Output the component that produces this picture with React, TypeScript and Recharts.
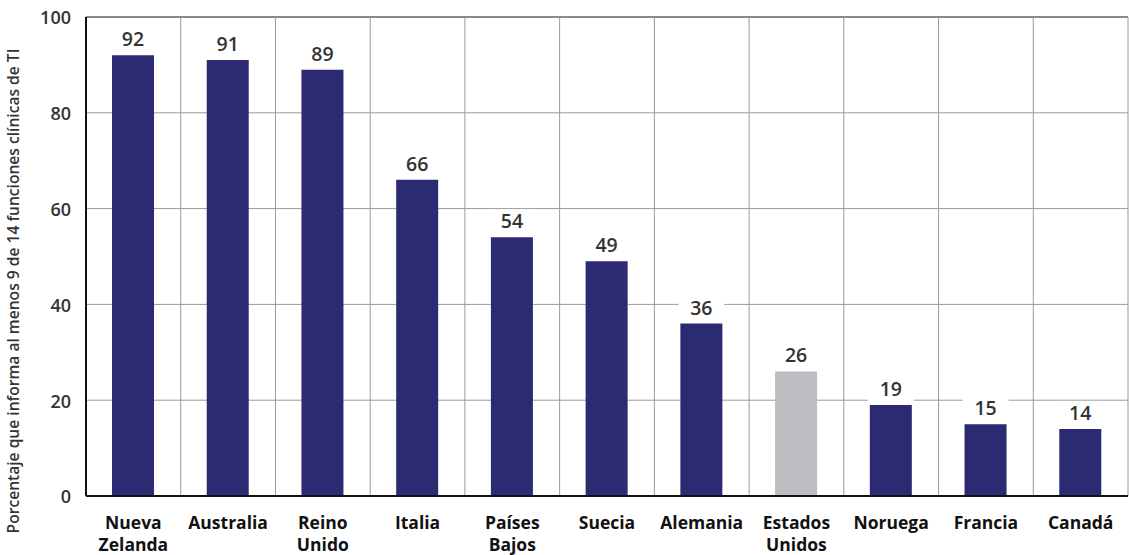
import React from "react";
import { BarChart, Bar, XAxis, YAxis, CartesianGrid, Cell, LabelList, ReferenceLine, Label } from "recharts";

const countries = [
  "Nueva\nZelanda",
  "Australia",
  "Reino\nUnido",
  "Italia",
  "Países\nBajos",
  "Suecia",
  "Alemania",
  "Estados\nUnidos",
  "Noruega",
  "Francia",
  "Canadá",
];
const values = [92, 91, 89, 66, 54, 49, 36, 26, 19, 15, 14];
const highlighted = ["Estados\nUnidos"];
const yTicks = [0, 20, 40, 60, 80, 100];
const yTitle = "Porcentaje que informa al menos 9 de 14 funciones clínicas de TI";

const NAVY = "#2B2A72";
const GREY_BAR = "#BCBDC0";
const FONT = "'Open Sans', sans-serif";

const data = countries.map((c, i) => ({ name: c, value: values[i] }));

const XTick = (props: any) => {
  const { x, y, payload } = props;
  const lines = String(payload.value).split("\n");
  return (
    <text x={x} y={y} textAnchor="middle" fontFamily={FONT} fontWeight={700} fontSize={17.5} fill="#111">
      {lines.map((l, i) => (
        <tspan key={i} x={x} dy={i === 0 ? 25 : 22}>
          {l}
        </tspan>
      ))}
    </text>
  );
};

const ValueLabel = (props: any) => {
  const { x, y, width, value } = props;
  const cx = x + width / 2;
  return (
    <g>
      <rect x={cx - 23} y={y - 28} width={46} height={25} fill="#fff" />
      <text x={cx} y={y - 9} textAnchor="middle" fontFamily={FONT} fontWeight={600} fontSize={19.5} fill="#333">
        {value}
      </text>
    </g>
  );
};

export default function App() {
  return (
    <div style={{ position: "absolute", left: 0, top: 0, width: 1129, height: 555, background: "#fff", overflow: "hidden" }}>
      <BarChart
        width={1129}
        height={555}
        data={data}
        margin={{ top: 17, right: 1, bottom: 0, left: 0 }}
      >
        <CartesianGrid
          stroke="#9a9a9a"
          strokeWidth={1}
          verticalCoordinatesGenerator={({ offset }: any) => {
            const n = countries.length;
            const w = offset.width / n;
            return countries.map((_, i) => offset.left + w * (i + 1));
          }}
        />
        <XAxis
          dataKey="name"
          interval={0}
          tickLine={false}
          axisLine={{ stroke: "#111", strokeWidth: 2 }}
          tick={<XTick />}
          height={59}
        />
        <YAxis
          domain={[0, 100]}
          ticks={yTicks}
          interval={0}
          tickLine={false}
          axisLine={{ stroke: "#111", strokeWidth: 2 }}
          tick={{ fontFamily: FONT, fontWeight: 600, fontSize: 18, fill: "#333", dy: 1 }}
          tickMargin={9}
          width={86}
        >
          <Label
            content={() => (
              <text
                x={19}
                y={291}
                transform="rotate(-90 19 291)"
                textAnchor="middle"
                fontFamily={FONT}
                fontWeight={600}
                fontSize={15.6}
                fill="#333"
              >
                {yTitle}
              </text>
            )}
          />
        </YAxis>
        <ReferenceLine y={100} stroke="#8a8a8a" strokeWidth={2} />
        <Bar dataKey="value" barSize={42} isAnimationActive={false}>
          {data.map((d) => (
            <Cell key={d.name} fill={highlighted.includes(d.name) ? GREY_BAR : NAVY} />
          ))}
          <LabelList dataKey="value" content={<ValueLabel />} />
        </Bar>
      </BarChart>
    </div>
  );
}
